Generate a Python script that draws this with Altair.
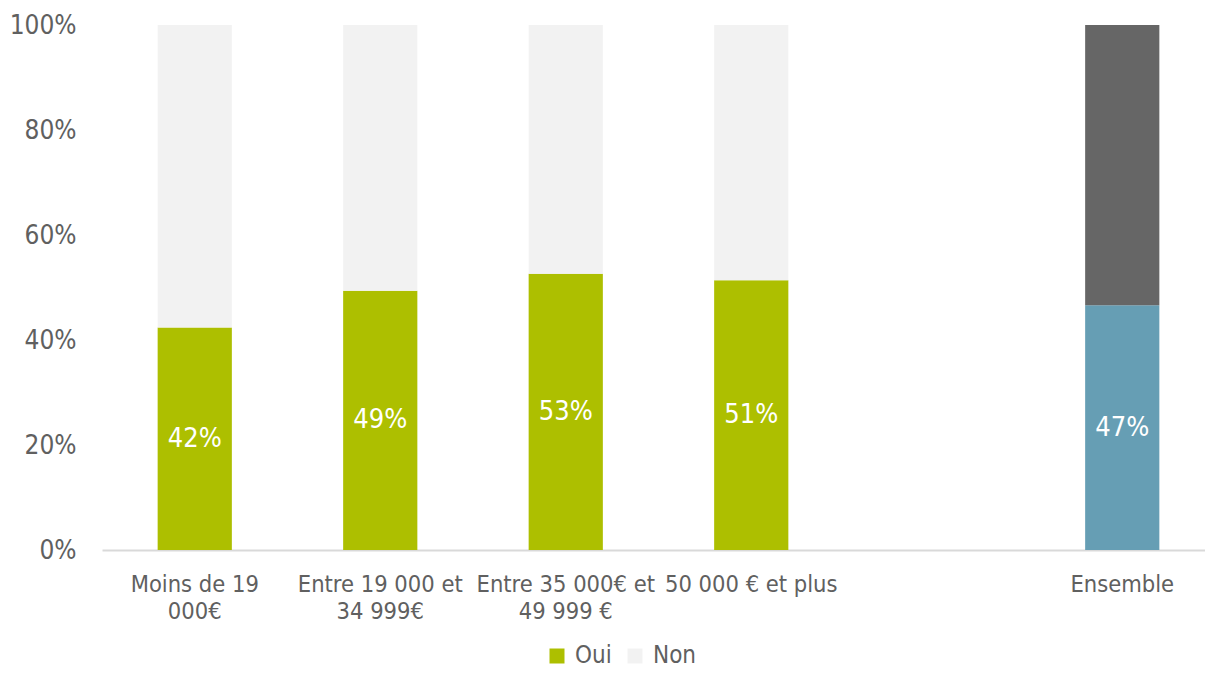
import altair as alt
import pandas as pd

# ---- data ----
categories = ["Moins de 19 000€", "Entre 19 000 et 34 999€", "Entre 35 000€ et 49 999 €",
              "50 000 € et plus", "Ensemble"]
label_lines = [["Moins de 19", "000€"], ["Entre 19 000 et", "34 999€"],
               ["Entre 35 000€ et", "49 999 €"], ["50 000 € et plus"], ["Ensemble"]]
oui = [42.4, 49.4, 52.6, 51.4, 46.6]
non = [100 - v for v in oui]
gap = " "  # empty slot before "Ensemble"
x_domain = categories[:4] + [gap] + categories[4:]

series_names = ["Oui", "Non"]
series_keys = ["Oui", "Non", "Oui_E", "Non_E"]
series_colors = ["#ADBF00", "#F2F2F2", "#669EB4", "#666666"]

rows = []
for c, o, n in zip(categories, oui, non):
    suffix = "_E" if c == "Ensemble" else ""
    rows.append({"cat": c, "series": "Oui" + suffix, "value": o, "ord": 0})
    rows.append({"cat": c, "series": "Non" + suffix, "value": n, "ord": 1})
df = pd.DataFrame(rows)

# multi-line x labels
expr = "''"
for c, lines in zip(reversed(categories), reversed(label_lines)):
    arr = "[" + ",".join("'" + l + "'" for l in lines) + "]"
    expr = f"datum.value == '{c}' ? {arr} : ({expr})"

FONT = "DejaVu Sans Condensed"
TXT = "#606060"

xscale = alt.Scale(domain=x_domain, paddingInner=0.6, paddingOuter=0.3, range=[0, 1113])

x = alt.X("cat:N", sort=x_domain, scale=xscale,
          axis=alt.Axis(title=None, labelExpr=expr, labelAngle=0, labelFontSize=23.5,
                        labelColor=TXT, labelFont=FONT, labelLineHeight=27,
                        labelPadding=22, ticks=False, domainColor="#D9D9D9",
                        domainWidth=2, labelBaseline="top"))

bars = alt.Chart(df).mark_bar().encode(
    x=x,
    y=alt.Y("value:Q", stack="zero",
            scale=alt.Scale(domain=[0, 100], nice=False),
            axis=alt.Axis(title=None, values=[0, 20, 40, 60, 80, 100],
                          labelExpr="datum.value + '%'", labelFontSize=26,
                          labelColor=TXT, labelFont=FONT, labelPadding=26,
                          ticks=False, domain=False, grid=False)),
    color=alt.Color("series:N",
                    scale=alt.Scale(domain=series_keys, range=series_colors),
                    legend=alt.Legend(values=series_names, title=None, orient="none",
                                      direction="horizontal", legendX=443, legendY=619,
                                      symbolType="square", symbolSize=225,
                                      symbolStrokeWidth=0, labelFontSize=24,
                                      labelFont=FONT, labelColor=TXT, labelOffset=6,
                                      columnPadding=11)),
    order=alt.Order("ord:Q"),
)

labels = alt.Chart(df).transform_filter(
    "datum.ord == 0"
).transform_calculate(
    mid="datum.value / 2",
    txt="format(datum.value / 100, '.0%')",
).mark_text(color="white", fontSize=27, font=FONT, baseline="middle").encode(
    x=alt.X("cat:N", sort=x_domain, scale=xscale),
    y=alt.Y("mid:Q"),
    text="txt:N",
)

chart = alt.layer(bars, labels).properties(
    width=1103, height=525,
    autosize=alt.AutoSizeParams(type="none"),
    padding={"left": 94, "top": 17, "right": 0, "bottom": 120},
).configure(font=FONT).configure_view(strokeWidth=0, stroke="transparent")

chart.save("out.html", embed_options={"renderer": "svg", "actions": False})
